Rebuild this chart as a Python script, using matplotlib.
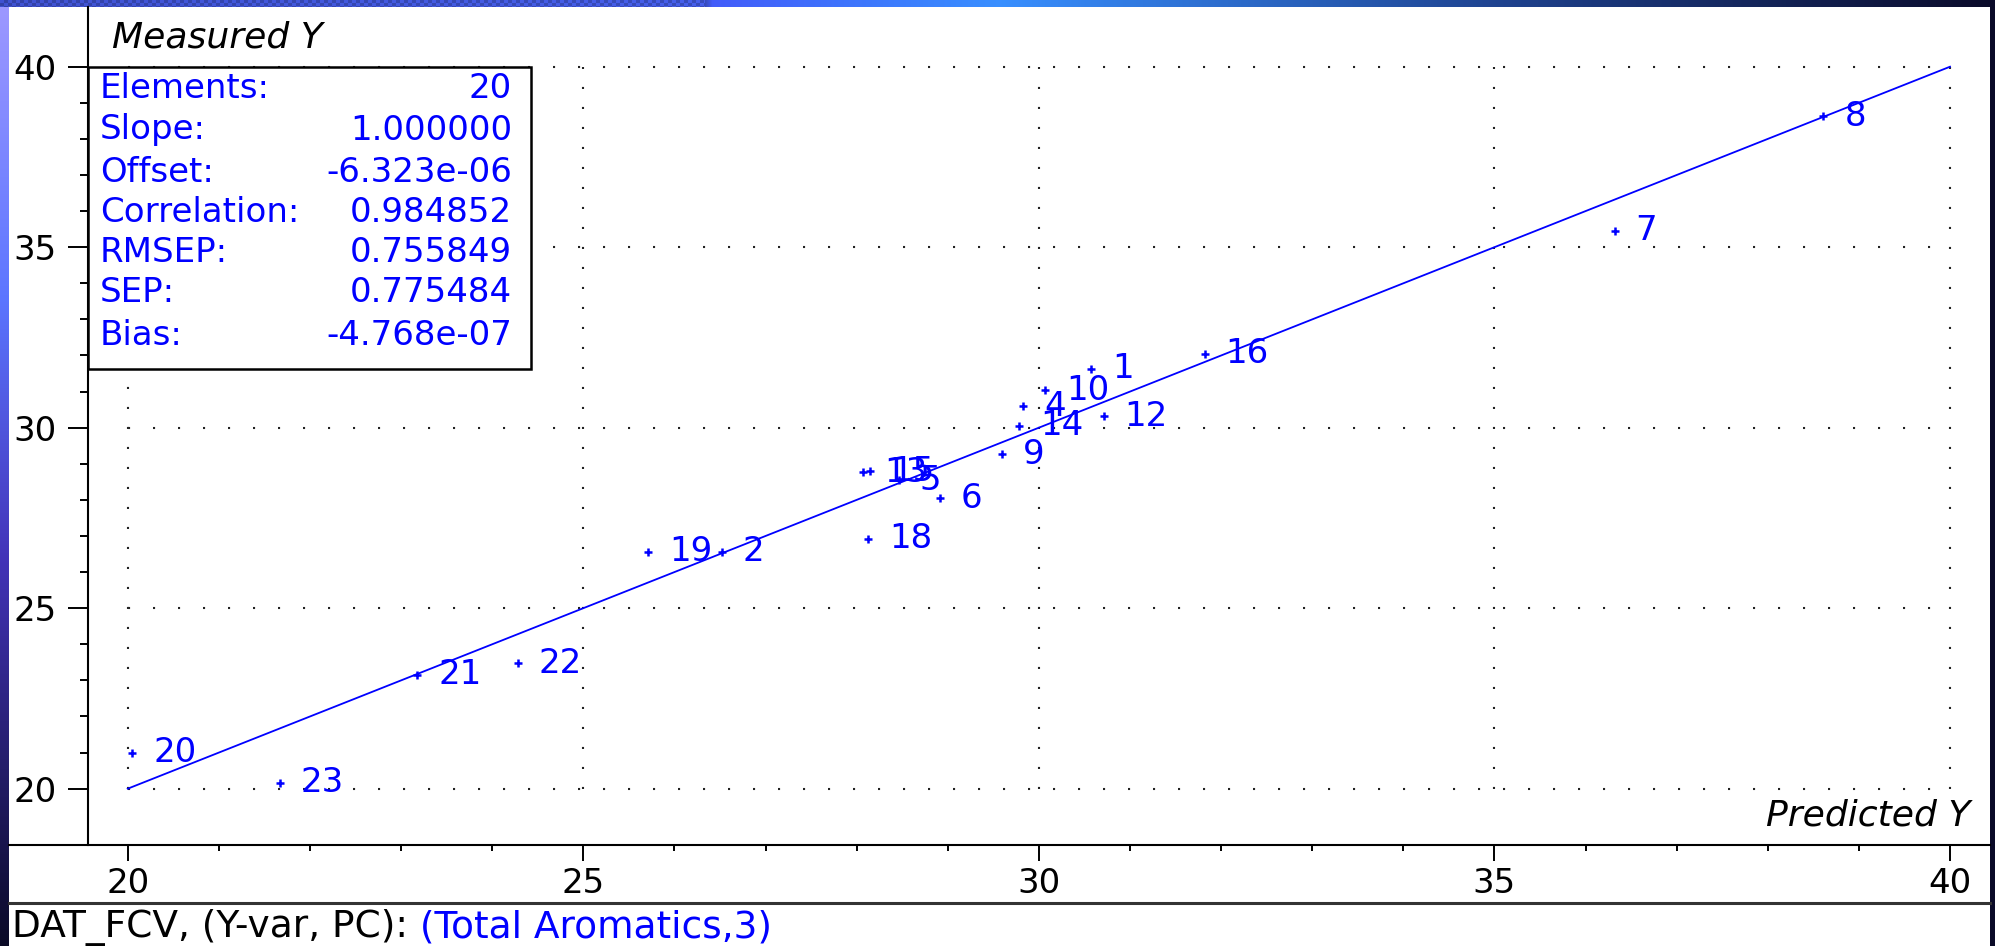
import numpy as np
import matplotlib
matplotlib.use("Agg")
import matplotlib.pyplot as plt
from matplotlib.lines import Line2D
from matplotlib.patches import Rectangle
from matplotlib.ticker import FixedLocator

plt.rcParams['font.family'] = ['DejaVu Sans']

# ---- data -------------------------------------------------------------
sample_ids = [1, 2, 4, 5, 6, 7, 8, 9, 10, 12, 13, 14, 15, 16, 18, 19, 20, 21, 22, 23]
predicted = [30.57, 26.52, 29.83, 28.46, 28.91, 36.32, 38.61, 29.59, 30.07, 30.71,
             28.07, 29.78, 28.15, 31.82, 28.13, 25.71, 20.05, 23.18, 24.28, 21.67]
measured = [31.63, 26.56, 30.60, 28.55, 28.05, 35.45, 38.63, 29.27, 31.04, 30.32,
            28.77, 30.05, 28.80, 32.05, 26.92, 26.56, 20.99, 23.15, 23.48, 20.16]

major_ticks = [20, 25, 30, 35, 40]
minor_ticks = list(range(20, 41))

fit_slope = 1.000000
fit_offset = -6.323e-06

stat_names = ["Elements:", "Slope:", "Offset:", "Correlation:", "RMSEP:", "SEP:", "Bias:"]
stat_values = ["20", "1.000000", "-6.323e-06", "0.984852", "0.755849", "0.775484", "-4.768e-07"]

footer_black = "DAT_FCV, (Y-var, PC):"
footer_blue = " (Total Aromatics,3)"

BLUE = "#0000ff"
FS = 24.5

# ---- figure & window frame ----------------------------------------------
W, H = 1995, 946
fig = plt.figure(figsize=(W / 100, H / 100), dpi=100)

bg = np.zeros((H, W, 3))
bg[:, :] = (0.04, 0.04, 0.16)
bg[7:, 9:1990] = 1.0
rows = np.arange(H)
stops_y = [0, 300, 560, 946]
stripe_cols = [(0.62, 0.60, 1.0), (0.36, 0.46, 1.0), (0.26, 0.20, 0.72), (0.04, 0.04, 0.15)]
for c in range(3):
    bg[:, :9, c] = np.interp(rows, stops_y, [s[c] for s in stripe_cols])[:, None]
cols = np.arange(W)
stops_x = [0, 705, 712, 1000, 1500, 1995]
bar_cols = [(0.20, 0.26, 0.66), (0.22, 0.30, 0.74), (0.26, 0.36, 0.98),
            (0.22, 0.56, 1.0), (0.12, 0.26, 0.56), (0.04, 0.04, 0.16)]
for c in range(3):
    bg[:7, :, c] = np.interp(cols, stops_x, [s[c] for s in bar_cols])[None, :]
checker = ((cols[None, :] // 4 + rows[:7, None] // 3) % 2 == 0) & (cols[None, :] < 705)
bg[:7][checker] *= 1.25
bg = np.clip(bg, 0, 1)
fig.figimage(bg, xo=0, yo=0, origin='upper', zorder=-10)

# ---- axes -------------------------------------------------------------
left_px, right_px, top_px, bottom_px = 88, 1990, 7, 845
ax = fig.add_axes([left_px / W, 1 - bottom_px / H,
                   (right_px - left_px) / W, (bottom_px - top_px) / H])
ax.set_facecolor('none')
ax.set_xlim(19.564, 40.439)
ax.set_ylim(18.44, 41.654)

for s in ['top', 'right', 'bottom']:
    ax.spines[s].set_visible(False)
ax.spines['left'].set_linewidth(1.5)
ax.spines['left'].set_color('black')

ax.xaxis.set_major_locator(FixedLocator(major_ticks))
ax.xaxis.set_minor_locator(FixedLocator(minor_ticks))
ax.yaxis.set_major_locator(FixedLocator(major_ticks))
ax.yaxis.set_minor_locator(FixedLocator(minor_ticks))
ax.tick_params(axis='x', which='major', length=11.5, width=1.4, pad=4,
               labelsize=FS, direction='out', color='black')
ax.tick_params(axis='x', which='minor', length=4.5, width=1.4, direction='out')
ax.tick_params(axis='y', which='major', length=14.4, width=1.4, pad=8,
               labelsize=FS, direction='out', color='black')
ax.tick_params(axis='y', which='minor', length=5.8, width=1.4, direction='out')

# dotted grid bounded to the tick range
lo, hi = major_ticks[0], major_ticks[-1]
for v in major_ticks:
    ax.plot([lo, hi], [v, v], color='#222222', lw=1.5, linestyle=(0, (1.0, 11.0)), zorder=1)
    ax.plot([v, v], [lo, hi], color='#222222', lw=1.5, linestyle=(0, (1.0, 8.6)), zorder=1)

# regression line
fit_x = np.array([lo, hi], dtype=float)
ax.plot(fit_x, fit_slope * fit_x + fit_offset, color=BLUE, lw=1.3, zorder=3)

# samples
ax.plot(predicted, measured, linestyle='none', marker='+', ms=6, mew=1.8,
        color=BLUE, zorder=4)
for sid, px_, py_ in zip(sample_ids, predicted, measured):
    ax.annotate(str(sid), (px_, py_), xytext=(21, 0), textcoords='offset pixels',
                va='center', ha='left', fontsize=FS, color=BLUE, zorder=5)

# statistics box
box_w = (531 - left_px) / (right_px - left_px)
box_top = (bottom_px - 66.7) / (bottom_px - top_px)
box_bot = (bottom_px - 369) / (bottom_px - top_px)
ax.add_patch(Rectangle((0, box_bot), box_w, box_top - box_bot, transform=ax.transAxes,
                       facecolor='white', edgecolor='black', lw=1.8, zorder=6,
                       clip_on=False))
row_px = [88, 130, 172, 212, 253, 293, 335]
for name, val, ry in zip(stat_names, stat_values, row_px):
    yf = (bottom_px - ry) / (bottom_px - top_px)
    ax.text((100 - left_px) / (right_px - left_px), yf, name, transform=ax.transAxes,
            ha='left', va='center', fontsize=FS, color=BLUE, zorder=7)
    ax.text((512 - left_px) / (right_px - left_px), yf, val, transform=ax.transAxes,
            ha='right', va='center', fontsize=FS, color=BLUE, zorder=7)

# axis captions
ax.text((112 - left_px) / (right_px - left_px), (bottom_px - 37) / (bottom_px - top_px),
        "Measured Y", transform=ax.transAxes, ha='left', va='center',
        fontsize=26, style='italic', color='black')
ax.text((1970 - left_px) / (right_px - left_px), (bottom_px - 815) / (bottom_px - top_px),
        "Predicted Y", transform=ax.transAxes, ha='right', va='center',
        fontsize=26, style='italic', color='black')

# frame lines across the panel
fig.add_artist(Line2D([9 / W, 1990 / W], [1 - 845 / H, 1 - 845 / H],
                      transform=fig.transFigure, color='black', lw=1.5))
fig.add_artist(Line2D([9 / W, 1990 / W], [1 - 903 / H, 1 - 903 / H],
                      transform=fig.transFigure, color='#333333', lw=2.2))

# footer
t1 = fig.text(12 / W, 1 - 927 / H, footer_black, ha='left', va='center',
              fontsize=27, color='black')
ax.annotate(footer_blue, xy=(1, 0), xycoords=t1, ha='left', va='bottom',
            fontsize=27, color=BLUE, annotation_clip=False)

fig.savefig("out.png", dpi=100)
